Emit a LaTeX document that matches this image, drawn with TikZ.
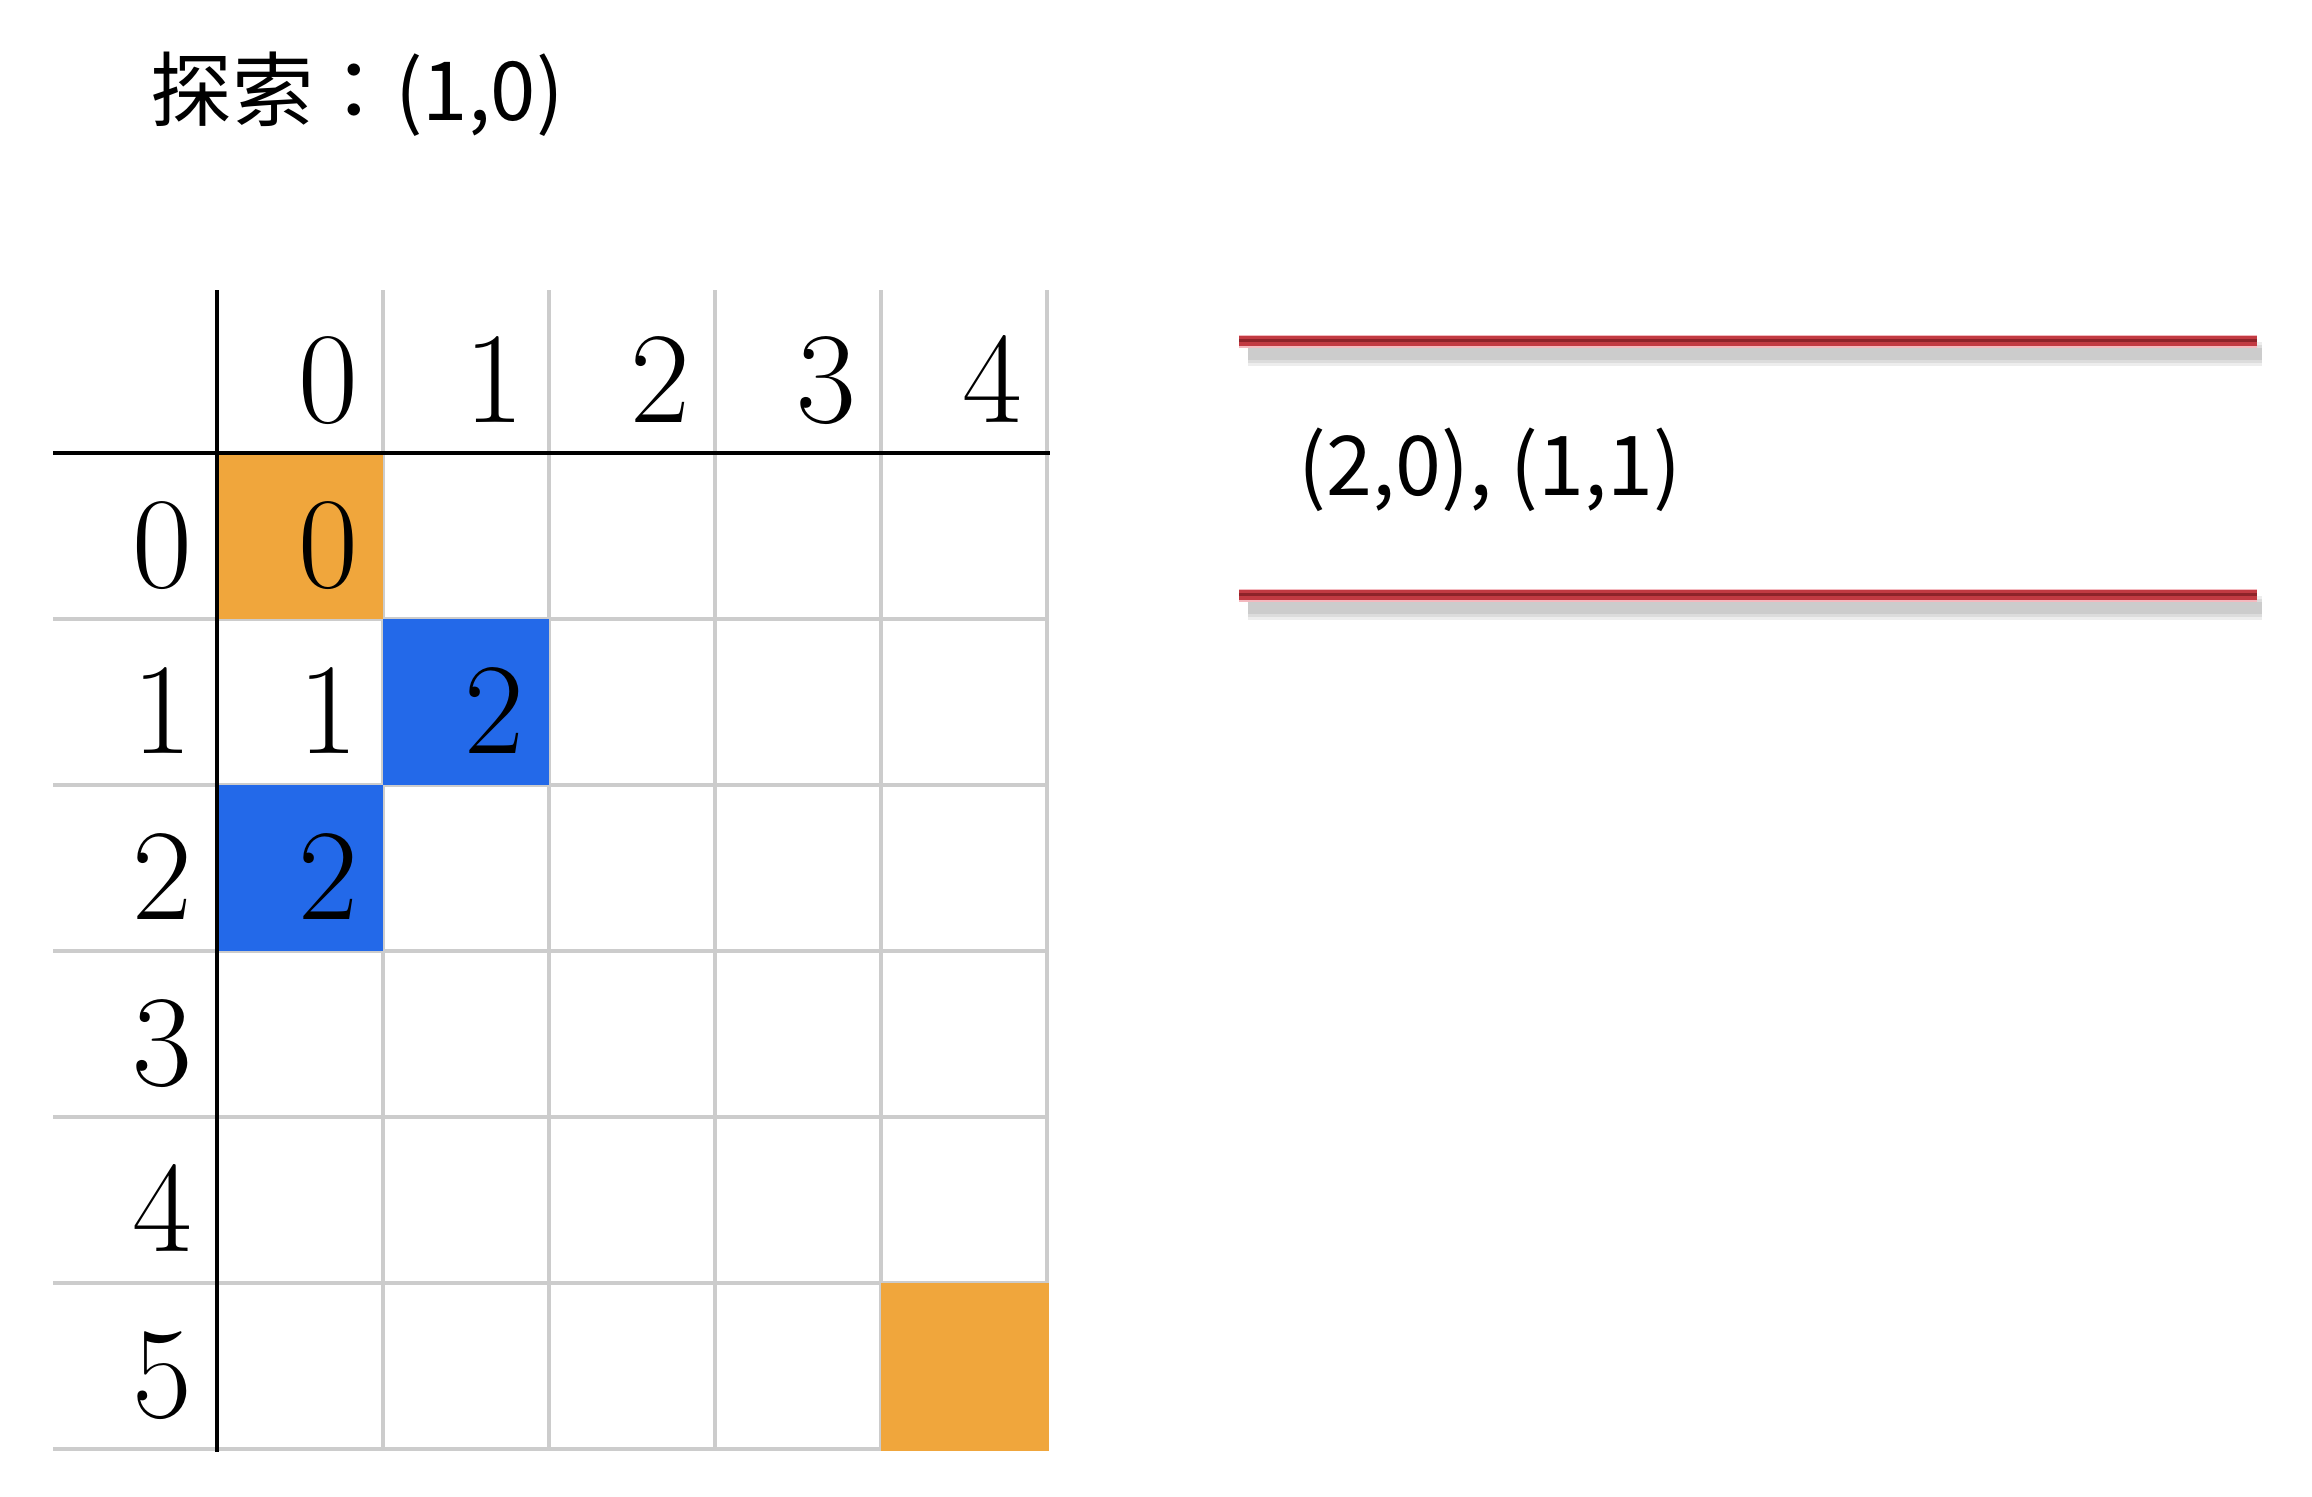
\documentclass[tikz,border=0pt]{standalone}
\usepackage{fontspec}
\newfontfamily\cjk{Noto Sans CJK SC}
\newfontfamily\cjktc{Noto Sans CJK TC}
\definecolor{gridgray}{HTML}{CCCCCC}
\definecolor{orangec}{HTML}{F0A63C}
\definecolor{bluec}{HTML}{2369E9}
\definecolor{redline}{HTML}{C23A42}
\definecolor{reddark}{HTML}{8E2329}
\definecolor{redglow}{HTML}{F4B9BF}
\begin{document}
\begin{tikzpicture}[x=0.1mm,y=-0.1mm,
  grid line/.style={gridgray, line width=0.4mm},
  axis line/.style={black, line width=0.4mm},
  digit/.style={inner sep=0pt, anchor=base, font=\fontsize{37}{40}\selectfont},
  label text/.style={inner sep=0pt, anchor=base west, font=\cjk\fontsize{23.5}{28}\selectfont},
  shadow line/.style={black, line width=1.6mm, opacity=0.07},
  red glow/.style={redglow, line width=1.3mm},
  red main/.style={redline, line width=1.05mm},
  red core/.style={reddark, line width=0.3mm}]
\fill[white] (0,0) rectangle (2312,1496);
\useasboundingbox (0,0) rectangle (2312,1496);

% title and queue content
\node[label text, font=\cjk\fontsize{23.2}{28}\selectfont] (title) at (150,120) {探索{\cjktc：}(1,0)};
\node[label text] (queue) at (1298,495) {(2,0), (1,1)};

% grid lines
\foreach \i in {1,...,5}
  \draw[grid line] ({217+166*\i},290) -- ({217+166*\i},1451);
\foreach \j in {1,...,6}
  \draw[grid line] (53,{453+166*\j}) -- (1049,{453+166*\j});

% coloured cells
\fill[orangec] (217,453) rectangle (383,619);
\fill[bluec] (383,619) rectangle (549,785);
\fill[bluec] (217,785) rectangle (383,951);
\fill[orangec] (881,1283) rectangle (1049,1451);

% axes
\draw[axis line] (53,453) -- (1050,453);
\draw[axis line] (217,290) -- (217,1452);

% column headers
\foreach \c in {0,...,4}
  \node[digit] (col\c) at ({328+166*\c},422) {\c};
% row headers
\foreach \r in {0,...,5}
  \node[digit] (row\r) at (162,{587+166*\r}) {\r};
% cell values
\node[digit] (v00) at (328,587) {0};
\node[digit] (v10) at (328,753) {1};
\node[digit] (v11) at (494,753) {2};
\node[digit] (v20) at (328,919) {2};

% red queue lines with soft shadow
\foreach \y in {341,595} {
  \foreach \w in {2.4,1.8,1.2} {
    \draw[shadow line, line width=\w mm] (1248,{\y+13}) -- (2262,{\y+13});
  }
  \draw[red glow] (1239,\y) -- (2257,\y);
  \draw[red main] (1239,\y) -- (2257,\y);
  \draw[red core] (1239,{\y-1}) -- (2257,{\y-1});
}
\end{tikzpicture}
\end{document}
